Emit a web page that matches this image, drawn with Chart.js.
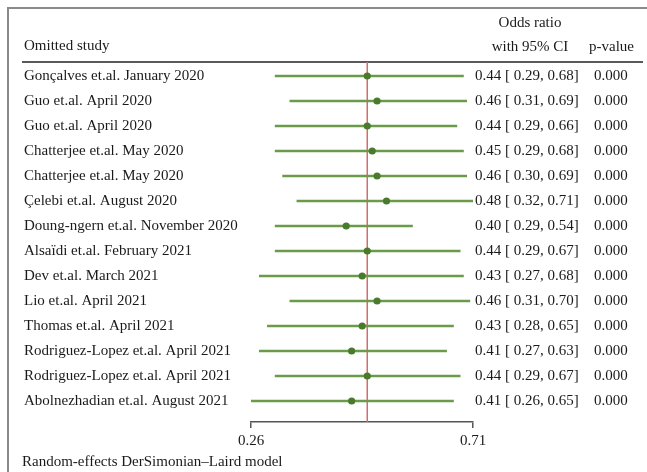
<!DOCTYPE html>
<html>
<head>
<meta charset="utf-8">
<script src="https://cdn.jsdelivr.net/npm/chart.js@4/dist/chart.umd.min.js"></script>
<style>
html,body{margin:0;padding:0;background:#fff;}
canvas{display:block;}
</style>
</head>
<body>
<canvas id="c" width="647" height="472"></canvas>
<script>
const studies = [
  "Gonçalves et.al. January 2020",
  "Guo et.al. April 2020",
  "Guo et.al. April 2020",
  "Chatterjee et.al. May 2020",
  "Chatterjee et.al. May 2020",
  "Çelebi et.al. August 2020",
  "Doung-ngern et.al. November 2020",
  "Alsaïdi et.al. February 2021",
  "Dev et.al. March 2021",
  "Lio et.al. April 2021",
  "Thomas et.al. April 2021",
  "Rodriguez-Lopez et.al. April 2021",
  "Rodriguez-Lopez et.al. April 2021",
  "Abolnezhadian et.al. August 2021"
];
const oddsRatio = [0.44, 0.46, 0.44, 0.45, 0.46, 0.48, 0.40, 0.44, 0.43, 0.46, 0.43, 0.41, 0.44, 0.41];
const ciLow     = [0.29, 0.31, 0.29, 0.29, 0.30, 0.32, 0.29, 0.29, 0.27, 0.31, 0.28, 0.27, 0.29, 0.26];
const ciHigh    = [0.68, 0.69, 0.66, 0.68, 0.69, 0.71, 0.54, 0.67, 0.68, 0.70, 0.65, 0.63, 0.67, 0.65];
const pValues   = ["0.000","0.000","0.000","0.000","0.000","0.000","0.000","0.000","0.000","0.000","0.000","0.000","0.000","0.000"];
const overallOR = 0.44;
const xTickValues = [0.26, 0.71];
const xTickLabels = ["0.26", "0.71"];

const FONT = "Liberation Serif";
const TXT = "#1a1a1a";
const GREEN = "#6a9a4a";
const DOT = "#4a7a2c";
const RED = "#d96a6a";

const overlay = {
  id: "overlay",
  beforeDraw(chart) {
    const ctx = chart.ctx;
    ctx.save();
    ctx.strokeStyle = "#8a8a8a";
    ctx.lineWidth = 2;
    ctx.beginPath();
    ctx.moveTo(8, 472); ctx.lineTo(8, 8); ctx.lineTo(647, 8);
    ctx.stroke();
    ctx.strokeStyle = "#222";
    ctx.lineWidth = 1.6;
    ctx.beginPath();
    ctx.moveTo(22, 62); ctx.lineTo(643, 62);
    ctx.stroke();
    ctx.restore();
  },
  beforeDatasetsDraw(chart) {
    const ctx = chart.ctx;
    const xs = chart.scales.x;
    const ca = chart.chartArea;
    ctx.save();
    ctx.strokeStyle = RED;
    ctx.lineWidth = 1.5;
    const px = xs.getPixelForValue(overallOR);
    ctx.beginPath();
    ctx.moveTo(px, ca.top); ctx.lineTo(px, ca.bottom);
    ctx.stroke();
    ctx.restore();
  },
  afterDraw(chart) {
    const ctx = chart.ctx;
    const ys = chart.scales.y;
    ctx.save();
    ctx.fillStyle = TXT;
    ctx.font = "15px '" + FONT + "'";
    ctx.textBaseline = "middle";
    ctx.textAlign = "left";
    ctx.fillText("Omitted study", 24, 46);
    ctx.textAlign = "center";
    ctx.fillText("Odds ratio", 530, 23);
    ctx.fillText("with 95% CI", 530, 47);
    ctx.textAlign = "left";
    ctx.fillText("p-value", 589, 47);
    for (let i = 0; i < studies.length; i++) {
      const y = ys.getPixelForValue(i);
      ctx.textAlign = "left";
      ctx.fillText(oddsRatio[i].toFixed(2) + " [ " + ciLow[i].toFixed(2) + ", " + ciHigh[i].toFixed(2) + "]", 475, y);
      ctx.fillText(pValues[i], 594, y);
    }
    ctx.textAlign = "left";
    ctx.fillText("Random-effects DerSimonian\u2013Laird model", 22, 462);
    ctx.restore();
  }
};

new Chart(document.getElementById("c"), {
  type: "bar",
  data: {
    datasets: [
      {
        type: "scatter",
        data: studies.map((s, i) => ({ x: oddsRatio[i], y: i })),
        pointRadius: 3.6,
        pointBackgroundColor: DOT,
        pointBorderWidth: 0,
        borderColor: DOT,
        showLine: false,
        order: 0
      },
      {
        type: "bar",
        data: studies.map((s, i) => ({ y: i, x: [ciLow[i], ciHigh[i]] })),
        backgroundColor: GREEN,
        borderWidth: 0,
        barThickness: 2,
        order: 1
      }
    ]
  },
  options: {
    indexAxis: "y",
    responsive: false,
    animation: false,
    devicePixelRatio: 1,
    layout: { padding: { left: 24, right: 174, top: 62, bottom: 0 } },
    plugins: { legend: { display: false }, tooltip: { enabled: false } },
    scales: {
      x: {
        type: "logarithmic",
        min: 0.26,
        max: 0.71,
        offset: false,
        afterBuildTicks(scale) { scale.ticks = xTickValues.map(v => ({ value: v })); },
        afterFit(scale) { scale.height = 50; },
        ticks: {
          callback: (v) => xTickLabels[xTickValues.indexOf(v)] ?? "",
          font: { family: FONT, size: 15 },
          color: TXT,
          padding: 4,
          maxRotation: 0,
          autoSkip: false
        },
        grid: { display: true, offset: false, drawOnChartArea: false, drawTicks: true, tickLength: 6, color: "#555", lineWidth: 1.5 },
        border: { display: true, color: "#555", width: 1.5 }
      },
      y: {
        type: "linear",
        reverse: true,
        offset: false,
        min: -0.56,
        max: 13.84,
        afterBuildTicks(scale) { scale.ticks = studies.map((s, i) => ({ value: i })); },
        afterFit(scale) { scale.width = 251 - 24; },
        ticks: {
          callback: (v) => studies[v] ?? "",
          crossAlign: "far",
          font: { family: FONT, size: 15 },
          color: TXT,
          padding: 0,
          autoSkip: false
        },
        grid: { display: false, offset: false },
        border: { display: false }
      }
    }
  },
  plugins: [overlay]
});
</script>
</body>
</html>
